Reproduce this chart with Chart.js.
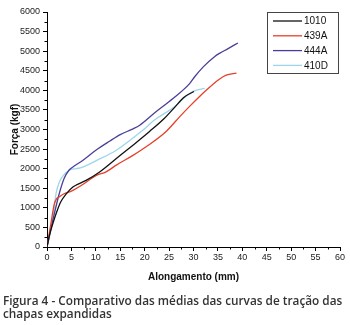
<!DOCTYPE html>
<html>
<head>
<meta charset="utf-8">
<script src="https://cdn.jsdelivr.net/npm/chart.js@4/dist/chart.umd.min.js"></script>
<style>
  html, body { margin: 0; padding: 0; background: #fff; }
  #wrap { position: relative; width: 350px; height: 325px; }
  #c { position: absolute; left: 0; top: 0; }
  #caption { position: absolute; left: 3px; top: 294px; font-family: "Open Sans", "Noto Sans", sans-serif; font-weight: 600; font-size: 11.8px; line-height: 13.3px; color: #333; white-space: nowrap; }
</style>
</head>
<body>
<div id="wrap">
  <canvas id="c" width="350" height="325"></canvas>
  <div id="caption">Figura 4 - Comparativo das médias das curvas de tração das<br>chapas expandidas</div>
</div>
<script>
// Series labels
const seriesNames = ['1010', '439A', '444A', '410D'];
const seriesColors = ['#111111', '#e5402a', '#4a3f98', '#9dd6ea'];

// Alongamento (mm) and Força (kgf)
const x1010 = [0, 0.5, 1.2, 2, 2.8, 3.9, 5.3, 8, 10.7, 14.2, 17.6, 21, 24, 26.1, 28, 30.1];
const y1010 = [0, 300, 600, 900, 1150, 1350, 1530, 1700, 1910, 2260, 2600, 2950, 3280, 3560, 3820, 3970];

const x439A = [0, 0.8, 1.5, 2.0, 2.5, 3.5, 4.9, 5.5, 7, 10, 12.1, 14.2, 17.6, 20.3, 24.4, 27.2, 29.2, 31.3, 32.6, 35, 36.7, 38.8];
const y439A = [0, 600, 1100, 1240, 1280, 1360, 1420, 1460, 1570, 1820, 1920, 2090, 2340, 2560, 2950, 3330, 3590, 3850, 4000, 4260, 4390, 4440];

const x444A = [0, 0.5, 1.5, 2.5, 3.5, 4.5, 5.5, 7.3, 10, 12.8, 15, 17.5, 19, 22, 25.8, 29.2, 30.2, 32, 34.3, 35.4, 37, 39.1];
const y444A = [0, 300, 850, 1360, 1750, 1960, 2060, 2210, 2470, 2700, 2870, 3010, 3110, 3420, 3790, 4170, 4340, 4600, 4860, 4950, 5060, 5210];

const x410D = [0, 0.5, 1.15, 1.85, 2.5, 3.5, 4.2, 5, 6, 7.3, 10, 14.2, 19.6, 22, 26.1, 28.5, 30, 32.3];
const y410D = [0, 250, 700, 1365, 1650, 1850, 1930, 1980, 2000, 2040, 2200, 2470, 2980, 3240, 3580, 3850, 3980, 4050];

// Axis ranges / ticks
const xMin = 0, xMax = 60, xStep = 5, xMinorStep = 2.5;
const yMin = 0, yMax = 6000, yStep = 500, yMinorStep = 250;
const xTitle = 'Alongamento (mm)';
const yTitle = 'Força (kgf)';

const xs = [x1010, x439A, x444A, x410D];
const ys = [y1010, y439A, y444A, y410D];

const datasets = seriesNames.map((name, i) => ({
  label: name,
  data: xs[i].map((x, k) => ({ x: x, y: ys[i][k] })),
  borderColor: seriesColors[i],
  backgroundColor: seriesColors[i],
  borderWidth: 1.3,
  pointRadius: 0,
  showLine: true,
  cubicInterpolationMode: 'monotone',
  fill: false
}));

const FONT = '"Liberation Sans", Arial, sans-serif';

const minorTicks = {
  id: 'minorTicks',
  afterDraw(chart) {
    const ctx = chart.ctx;
    const xs = chart.scales.x, ys = chart.scales.y;
    const area = chart.chartArea;
    ctx.save();
    ctx.strokeStyle = '#000';
    ctx.lineWidth = 1;
    ctx.beginPath();
    for (let v = xMin + xMinorStep; v < xMax; v += xStep) {
      const px = Math.round(xs.getPixelForValue(v)) + 0.5;
      ctx.moveTo(px, area.bottom);
      ctx.lineTo(px, area.bottom + 2.5);
    }
    for (let v = yMin + yMinorStep; v < yMax; v += yStep) {
      const py = Math.round(ys.getPixelForValue(v)) + 0.5;
      ctx.moveTo(area.left, py);
      ctx.lineTo(area.left - 2.5, py);
    }
    ctx.stroke();
    ctx.restore();
  }
};

const boxLegend = {
  id: 'boxLegend',
  afterDraw(chart) {
    const ctx = chart.ctx;
    const area = chart.chartArea;
    const left = area.right - 73, top = area.top;
    const w = 71, h = 61;
    ctx.save();
    ctx.strokeStyle = '#444';
    ctx.lineWidth = 1;
    ctx.strokeRect(left + 0.5, top + 0.5, w, h);
    ctx.font = '10px ' + FONT;
    ctx.textBaseline = 'middle';
    ctx.textAlign = 'left';
    chart.data.datasets.forEach((ds, i) => {
      const y = top + 9 + i * 14.8;
      ctx.strokeStyle = ds.borderColor;
      ctx.lineWidth = 1.3;
      ctx.beginPath();
      ctx.moveTo(left + 6, y);
      ctx.lineTo(left + 35, y);
      ctx.stroke();
      ctx.fillStyle = '#111';
      ctx.fillText(ds.label, left + 37, y + 0.5);
    });
    ctx.restore();
  }
};

new Chart(document.getElementById('c'), {
  type: 'scatter',
  data: { datasets: datasets },
  options: {
    responsive: false,
    animation: false,
    layout: { padding: { left: 0, top: 12, right: 10, bottom: 38 } },
    plugins: { legend: { display: false }, tooltip: { enabled: false } },
    scales: {
      x: {
        type: 'linear', min: xMin, max: xMax,
        afterFit(s) { s.height = 40; },
        ticks: { stepSize: xStep, color: '#222', font: { family: FONT, size: 9 }, padding: 1, maxRotation: 0, callback: v => String(v) },
        grid: { drawOnChartArea: false, drawTicks: true, tickLength: 4, tickColor: '#000' },
        border: { display: true, color: '#000', width: 1 },
        title: { display: true, text: xTitle, color: '#111', font: { family: FONT, size: 10, weight: 'bold' }, padding: { top: 0, bottom: 4 } }
      },
      y: {
        type: 'linear', min: yMin, max: yMax,
        afterFit(s) { s.width = 47; },
        ticks: { stepSize: yStep, color: '#222', font: { family: FONT, size: 9 }, padding: 3, callback: v => String(v) },
        grid: { drawOnChartArea: false, drawTicks: true, tickLength: 4, tickColor: '#000' },
        border: { display: true, color: '#000', width: 1 },
        title: { display: true, text: yTitle, color: '#111', font: { family: FONT, size: 10, weight: 'bold' }, padding: { top: 9, bottom: 0 } }
      }
    }
  },
  plugins: [minorTicks, boxLegend]
});
</script>
</body>
</html>
